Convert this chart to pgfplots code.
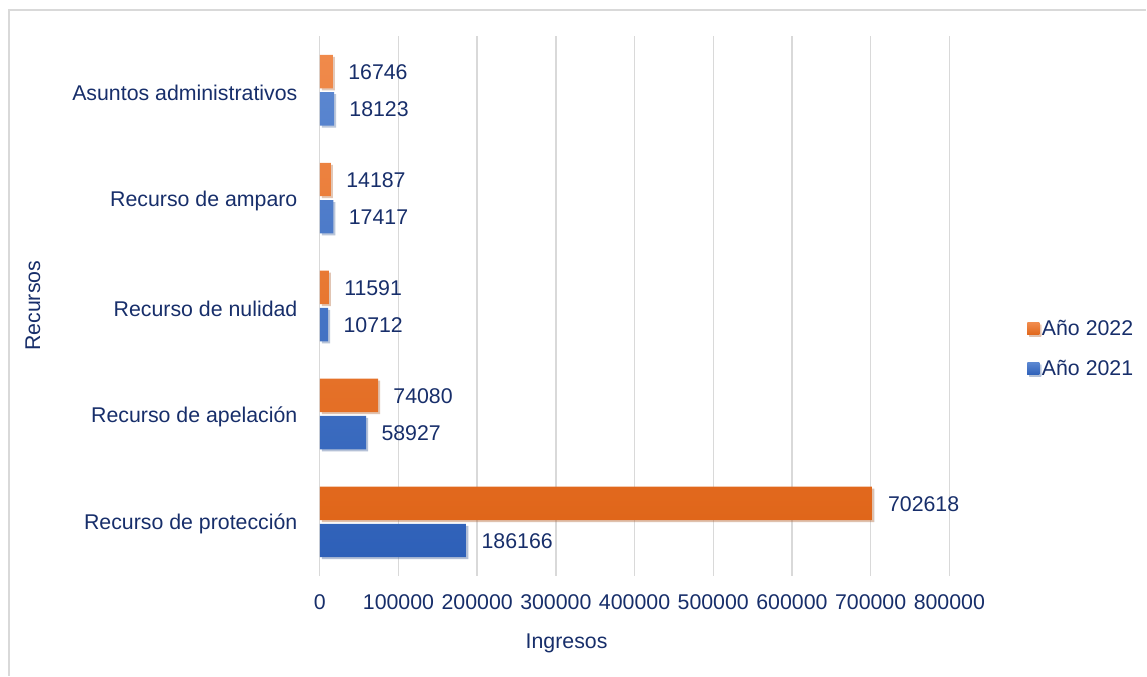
\documentclass[border=0pt]{standalone}
\usepackage{fontspec}
\setmainfont{Liberation Sans}
\usepackage{pgfplots}
\pgfplotsset{compat=1.18}
\usetikzlibrary{shadows}
\definecolor{txt}{HTML}{172E6A}
\definecolor{gridc}{HTML}{D9D9D9}
\definecolor{orTop}{HTML}{F08A4B}
\definecolor{orBot}{HTML}{E0661A}
\definecolor{blTop}{HTML}{5A86D0}
\definecolor{blBot}{HTML}{2E60B8}
\newcommand{\f}{\fontsize{16}{19}\selectfont}
\begin{document}
\begin{tikzpicture}
\begin{axis}[
  scale only axis, width=472.5pt, height=405pt,
  xmin=0, xmax=800000, ymin=-0.5, ymax=4.5,
  xtick={0,100000,...,800000},
  scaled x ticks=false,
  /pgf/number format/assume math mode=true,
  xticklabel={\pgfmathprintnumber[fixed,precision=0,1000 sep={}]{\tick}},
  ytick={0,1,2,3,4},
  yticklabels={Recurso de protección,Recurso de apelación,Recurso de nulidad,Recurso de amparo,Asuntos administrativos},
  axis line style={draw=none},
  major tick style={draw=none},
  xmajorgrids, grid style={gridc, line width=1pt},
  tick label style={font=\f, text=txt},
  xticklabel style={yshift=-10.5pt},
  yticklabel style={xshift=-9pt, yshift=-2pt},
  xlabel={Ingresos}, ylabel={Recursos},
  label style={font=\f, text=txt},
  xlabel style={at={(axis description cs:0.392,-0.126)}, anchor=center},
  ylabel style={at={(axis description cs:-0.4556,0.5)}, anchor=center},
  xbar, bar width=0.31,
  clip=false,
  point meta=explicit symbolic,
  nodes near coords,
  nodes near coords style={anchor=west, font=\f, text=txt, xshift=8pt, yshift=-0.5pt},
  legend style={at={(axis description cs:1.117,0.42)}, anchor=west, draw=none, fill=none, font=\f, text=txt, row sep=13pt},
  legend cell align=left,
]
\addplot[bar shift=0.17, draw=none, top color=orTop, bottom color=orBot,
  drop shadow={shadow xshift=1.5pt, shadow yshift=-1.5pt, opacity=0.25},
  legend image code/.code={\fill[orTop!50!orBot] (0pt,-4.5pt) rectangle (9pt,4.5pt);}]
  coordinates {(702618,0) [702618] (74080,1) [74080] (11591,2) [11591] (14187,3) [14187] (16746,4) [16746]};
\addlegendentry{Año 2022}
\addplot[bar shift=-0.175, draw=none, top color=blTop, bottom color=blBot,
  drop shadow={shadow xshift=1.5pt, shadow yshift=-1.5pt, opacity=0.25},
  legend image code/.code={\fill[blTop!50!blBot] (0pt,-4.5pt) rectangle (9pt,4.5pt);}]
  coordinates {(186166,0) [186166] (58927,1) [58927] (10712,2) [10712] (17417,3) [17417] (18123,4) [18123]};
\addlegendentry{Año 2021}
\end{axis}
\draw[gridc, line width=1.2pt] (-233.25pt,-75pt) -- (-233.25pt,424.5pt) -- (620.25pt,424.5pt);
\useasboundingbox (-240pt,-75pt) rectangle (620.25pt,432pt);
\end{tikzpicture}
\end{document}
